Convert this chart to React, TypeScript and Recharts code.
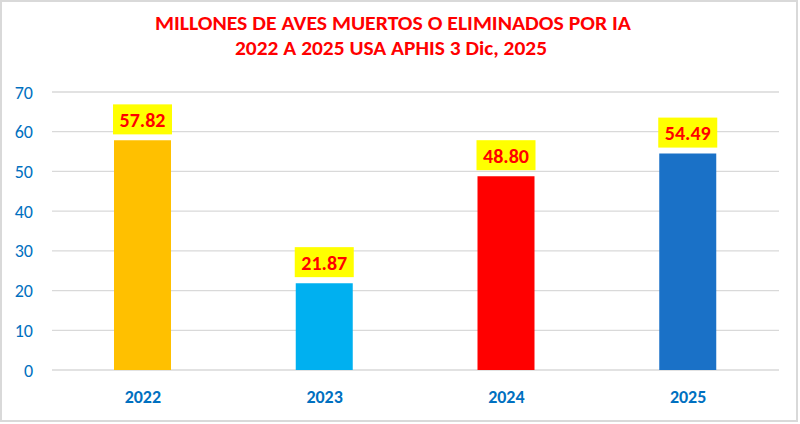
import React from 'react';
import { BarChart, Bar, XAxis, YAxis, CartesianGrid, Cell, LabelList } from 'recharts';

// Millions of birds dead or culled due to avian influenza (USDA APHIS)
const years = ['2022', '2023', '2024', '2025'];
const birdsMillions = [57.82, 21.87, 48.8, 54.49];
const barColors = ['#FFC000', '#00B0F0', '#FF0000', '#1A71C7'];
const yTicks = [0, 10, 20, 30, 40, 50, 60, 70];
const titleLines = [
  'MILLONES DE AVES MUERTOS O ELIMINADOS POR IA',
  '2022 A 2025 USA APHIS 3 Dic, 2025',
];

const data = years.map((year, i) => ({ year, value: birdsMillions[i] }));

const FONT = 'Carlito, Lato, "Open Sans", sans-serif';
const AXIS_BLUE = '#0070C0';

const YTick = (props: any) => {
  const { y, payload } = props;
  return (
    <text x={33} y={y} dy={6.5} textAnchor="end" fill={AXIS_BLUE} fontSize={18} fontFamily={FONT}>
      {payload.value}
    </text>
  );
};

const XTick = (props: any) => {
  const { x, y, payload } = props;
  return (
    <text x={x} y={y} dy={33} textAnchor="middle" fill={AXIS_BLUE} fontSize={18} fontWeight={700} fontFamily={FONT}>
      {payload.value}
    </text>
  );
};

// Yellow value badge sitting just above each bar
const ValueBadge = (props: any) => {
  const { x, y, width, value } = props;
  const cx = Number(x) + Number(width) / 2;
  const boxW = Number(width) + 2;
  const boxH = 30;
  const bottom = Number(y) - 6;
  return (
    <g>
      <rect x={cx - boxW / 2} y={bottom - boxH} width={boxW} height={boxH} fill="#FFFF00" />
      <text
        x={cx}
        y={bottom - boxH / 2 + 7.5}
        textAnchor="middle"
        fill="#FF0000"
        fontSize={20}
        fontWeight={700}
        fontFamily={FONT}
      >
        {Number(value).toFixed(2)}
      </text>
    </g>
  );
};

export default function App() {
  return (
    <div
      style={{
        position: 'absolute',
        left: 0,
        top: 0,
        width: 800,
        height: 424,
        background: '#ffffff',
      }}
    >
      <div
        style={{
          position: 'absolute',
          left: 0,
          top: 0,
          width: 798,
          height: 422,
          boxSizing: 'border-box',
          border: '2px solid #D9D9D9',
        }}
      />
      <BarChart
        width={800}
        height={424}
        data={data}
        margin={{ top: 92, right: 21, bottom: 0, left: 0 }}
      >
        <CartesianGrid vertical={false} stroke="#D9D9D9" strokeWidth={1.3} />
        <YAxis
          width={52}
          domain={[0, 70]}
          ticks={yTicks}
          interval={0}
          axisLine={false}
          tickLine={false}
          tick={<YTick />}
        />
        <XAxis
          dataKey="year"
          height={54}
          axisLine={false}
          tickLine={false}
          tickSize={0}
          tickMargin={0}
          tick={<XTick />}
        />
        <Bar dataKey="value" barSize={57} isAnimationActive={false}>
          {data.map((d, i) => (
            <Cell key={d.year} fill={barColors[i]} />
          ))}
          <LabelList dataKey="value" content={<ValueBadge />} />
        </Bar>
      </BarChart>
      <svg
        width={800}
        height={70}
        style={{ position: 'absolute', left: 0, top: 0, pointerEvents: 'none' }}
      >
        <text
          x={393}
          y={30}
          textAnchor="middle"
          fill="#FF0000"
          fontSize={20.5}
          fontWeight={700}
          fontFamily={FONT}
          textLength={476}
          lengthAdjust="spacingAndGlyphs"
        >
          {titleLines[0]}
        </text>
        <text
          x={391}
          y={55}
          textAnchor="middle"
          fill="#FF0000"
          fontSize={20.5}
          fontWeight={700}
          fontFamily={FONT}
          textLength={312}
          lengthAdjust="spacingAndGlyphs"
        >
          {titleLines[1]}
        </text>
      </svg>
    </div>
  );
}
